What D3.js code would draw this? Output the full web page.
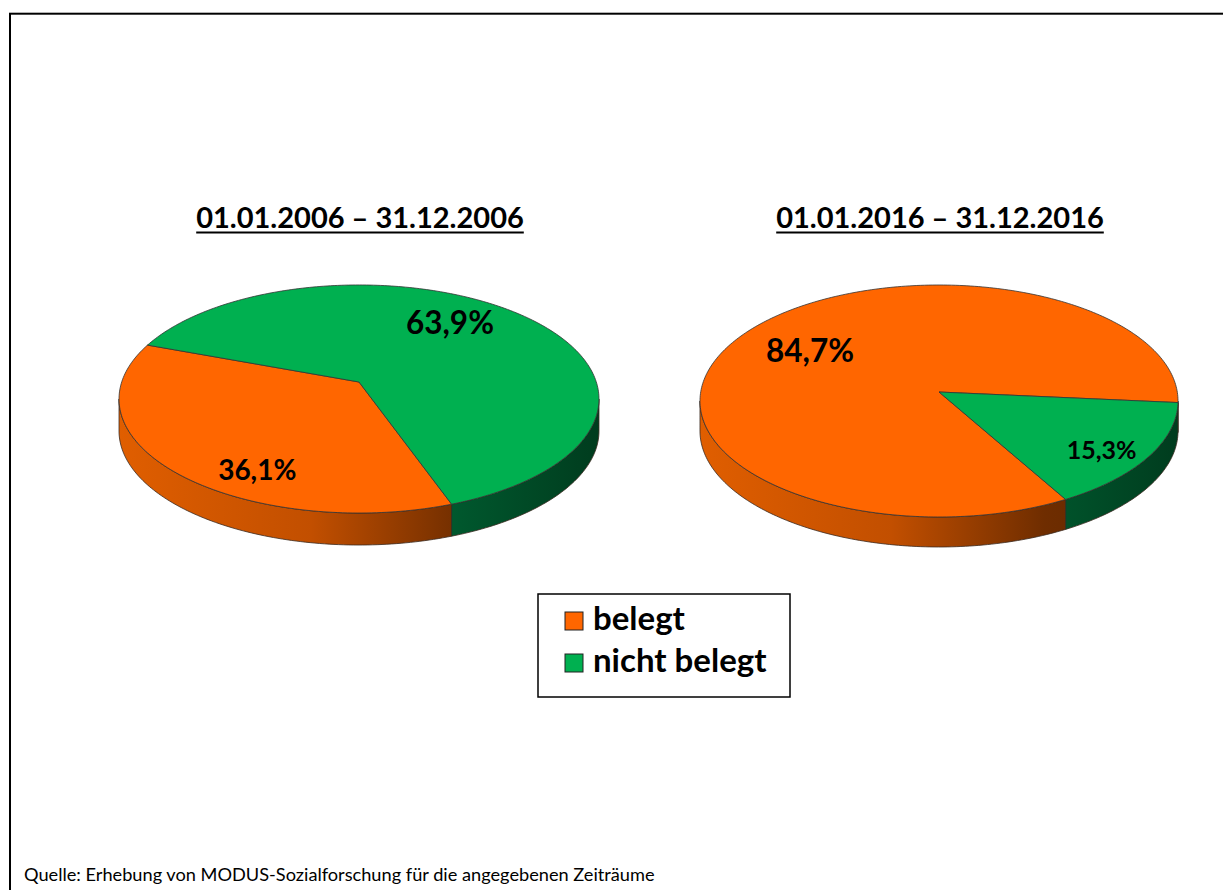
<!DOCTYPE html>
<html>
<head>
<meta charset="utf-8">
<script src="https://cdn.jsdelivr.net/npm/d3@7"></script>
<style>
  body { margin: 0; background: #fff; }
  svg { display: block; }
  text { font-family: Lato, "Open Sans", sans-serif; fill: #000; }
</style>
</head>
<body>
<svg id="chart" width="1223" height="890"></svg>
<script>
// data
const categories = ["belegt", "nicht belegt"];
const periods = ["01.01.2006 – 31.12.2006", "01.01.2016 – 31.12.2016"];
const belegt = [36.1, 84.7];
const nichtBelegt = [63.9, 15.3];
const source = "Quelle: Erhebung von MODUS-Sozialforschung für die angegebenen Zeiträume";

const colors = ["#ff6600", "#00b050"];

// layout of the two tilted pies (perspective: k, half axes a/b, depth h)
const pies = [
  { cx: 359, cy: 382, a: 237.3, b: 111.5, k: 0.149, h: 32, start: 160.4,
    labels: [{ shift: -16.7, r: 0.80, size: 28 }, { shift: -10, r: 0.72, size: 31.5 }] },
  { cx: 939, cy: 392, a: 238.3, b: 115.3, k: 0.0775, h: 30, start: 150.3,
    labels: [{ shift: 1, r: 0.67, size: 31.5 }, { shift: 3, r: 0.81, size: 25 }] }
];

const svg = d3.select("#chart");
const defs = svg.append("defs");

// frame
svg.append("rect").attr("x", 10).attr("y", 13.7).attr("width", 1400).attr("height", 1000)
  .attr("fill", "none").attr("stroke", "#000").attr("stroke-width", 2);

const rad = d => d * Math.PI / 180;

function projector(p) {
  return function(t, drop, r) {
    r = r === undefined ? 1 : r;
    const u = r * Math.sin(t), v = -r * Math.cos(t);
    const w = 1 - p.k * v;
    return [p.cx + p.a * u / w, p.cy + p.b * v / w + drop];
  };
}

function arcPoints(proj, t0, t1, drop) {
  const n = Math.max(2, Math.ceil(Math.abs(t1 - t0) / rad(1)));
  return d3.range(n + 1).map(i => proj(t0 + (t1 - t0) * i / n, drop));
}

const sideStops = [
  [[0, "#e05e00"], [0.4, "#c24f00"], [0.72, "#6f2d00"], [1, "#5a2400"]],
  [[0, "#00a04c"], [0.6, "#006233"], [0.75, "#00532b"], [1, "#003c1e"]]
];

pies.forEach((p, pi) => {
  const proj = projector(p);
  const values = [belegt[pi], nichtBelegt[pi]];
  const arcs = d3.pie().sort(null)
    .startAngle(rad(p.start)).endAngle(rad(p.start + 360))(values);

  const halfW = p.a / Math.sqrt(1 - p.k * p.k);
  sideStops.forEach((stops, ci) => {
    const g = defs.append("linearGradient").attr("id", "side" + pi + ci)
      .attr("gradientUnits", "userSpaceOnUse")
      .attr("x1", p.cx - halfW).attr("x2", p.cx + halfW).attr("y1", 0).attr("y2", 0);
    stops.forEach(s => g.append("stop").attr("offset", s[0]).attr("stop-color", s[1]));
  });

  const g = svg.append("g");

  // visible side arc between the two silhouette points
  const tR = Math.acos(-p.k), tL = 2 * Math.PI - tR;
  arcs.forEach((d, i) => {
    [0, 2 * Math.PI].forEach(off => {
      const t0 = Math.max(d.startAngle, tR + off), t1 = Math.min(d.endAngle, tL + off);
      if (t1 <= t0) return;
      const pts = arcPoints(proj, t0, t1, 0).concat(arcPoints(proj, t1, t0, p.h));
      g.append("path").attr("d", "M" + pts.join("L") + "Z")
        .attr("fill", "url(#side" + pi + i + ")")
        .attr("stroke", "#3a2a20").attr("stroke-width", 0.8).attr("stroke-linejoin", "round");
    });
  });

  // top faces
  arcs.forEach((d, i) => {
    const pts = [proj(0, 0, 0)].concat(arcPoints(proj, d.startAngle, d.endAngle, 0));
    g.append("path").attr("d", "M" + pts.join("L") + "Z")
      .attr("fill", colors[i])
      .attr("stroke", "#333").attr("stroke-width", 0.8).attr("stroke-linejoin", "round");
  });

  // labels
  arcs.forEach((d, i) => {
    const L = p.labels[i];
    const pos = proj((d.startAngle + d.endAngle) / 2 + rad(L.shift), 0, L.r);
    g.append("text").attr("x", pos[0]).attr("y", pos[1])
      .attr("text-anchor", "middle").attr("dominant-baseline", "central")
      .attr("font-weight", 700).attr("font-size", L.size)
      .text(d3.format(".1f")(d.data).replace(".", ",") + "%");
  });

  // title with underline
  const title = svg.append("text").attr("x", p.cx + 1).attr("y", 228)
    .attr("text-anchor", "middle").attr("font-weight", 700).attr("font-size", 29)
    .text(periods[pi]);
  const tw = title.node().getComputedTextLength();
  svg.append("line").attr("x1", p.cx + 1 - tw / 2).attr("x2", p.cx + 1 + tw / 2)
    .attr("y1", 232.5).attr("y2", 232.5).attr("stroke", "#000").attr("stroke-width", 2.2);
});

// legend
const legend = svg.append("g");
legend.append("rect").attr("x", 538).attr("y", 594).attr("width", 252).attr("height", 103)
  .attr("fill", "#fff").attr("stroke", "#000").attr("stroke-width", 1.5);
const ly = d3.scalePoint().domain(categories).range([630, 672]);
categories.forEach((c, i) => {
  legend.append("rect").attr("x", 565).attr("y", ly(c) - 18).attr("width", 18).attr("height", 18)
    .attr("fill", colors[i]).attr("stroke", "#222").attr("stroke-width", 1);
  legend.append("text").attr("x", 593).attr("y", ly(c))
    .attr("font-weight", 700).attr("font-size", 33).text(c);
});

// source
svg.append("text").attr("x", 24).attr("y", 881).attr("font-size", 18.2).text(source);
</script>
</body>
</html>
